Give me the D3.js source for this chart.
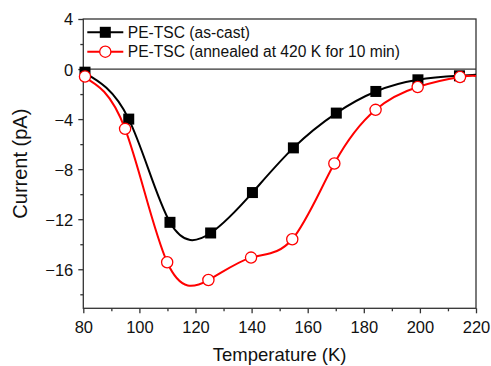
<!DOCTYPE html>
<html>
<head>
<meta charset="utf-8">
<script src="https://cdn.jsdelivr.net/npm/d3@7"></script>
<style>
  body { margin: 0; background: #fff; }
  text { font-family: "Liberation Sans", Arial, sans-serif; fill: #111; }
</style>
</head>
<body>
<div id="chart"></div>
<script>
// values
const temps = [80.6, 96.2, 110.9, 125.4, 140.3, 154.9, 170.2, 184.3, 199.3, 214.1];
const asCast = [-0.25, -4.0, -12.25, -13.1, -9.87, -6.3, -3.52, -1.79, -0.86, -0.54];
const annealedTemps = [80.6, 94.9, 109.9, 124.6, 139.8, 154.5, 169.5, 184.2, 199.2, 214.3];
const annealed = [-0.6, -4.78, -15.44, -16.86, -15.07, -13.6, -7.55, -3.26, -1.44, -0.64];
// where the fitted lines run out at the frame edge
const lineEndT = 220;
const asCastEnd = -0.45;
const annealedEnd = -0.55;

const xTicks = [80, 100, 120, 140, 160, 180, 200, 220];
const yTicks = [4, 0, -4, -8, -12, -16];
const legendLabels = ['PE-TSC (as-cast)', 'PE-TSC (annealed at 420 K for 10 min)'];

const width = 491, height = 366;
const margin = { left: 83.3, right: 15, top: 19, bottom: 57.7 };
const innerW = width - margin.left - margin.right;
const innerH = height - margin.top - margin.bottom;

const svg = d3.select('#chart').append('svg')
  .attr('width', width)
  .attr('height', height);

const g = svg.append('g')
  .attr('transform', `translate(${margin.left},${margin.top})`);

const x = d3.scaleLinear().domain([80, 220]).range([0, innerW]);
const y = d3.scaleLinear().domain([-19.12, 4]).range([innerH, 0]);

const axisColor = '#333';

// axes, ticks outward
const xAxis = g.append('g')
  .attr('transform', `translate(0,${innerH})`)
  .call(d3.axisBottom(x).tickValues(xTicks).tickSize(5).tickPadding(5).tickFormat(d3.format('d')));
const xMinor = g.append('g')
  .attr('transform', `translate(0,${innerH})`)
  .call(d3.axisBottom(x).tickValues(d3.range(90, 220, 20)).tickSize(3).tickFormat(''));
const yAxis = g.append('g')
  .call(d3.axisLeft(y).tickValues(yTicks).tickSize(5).tickPadding(5).tickFormat(d3.format('d')));
const yMinor = g.append('g')
  .call(d3.axisLeft(y).tickValues([2, -2, -6, -10, -14, -18]).tickSize(3).tickFormat(''));

[xAxis, xMinor, yAxis, yMinor].forEach(a => {
  a.select('.domain').remove();
  a.selectAll('line').attr('stroke', axisColor).attr('stroke-width', 1.3);
  a.selectAll('text').style('font-size', '16.5px').attr('fill', '#111');
});
xAxis.selectAll('text').attr('dy', '0.9em');
yAxis.selectAll('text').attr('dy', '0.36em');

// frame + legend box bottom (sits on I = 0)
g.append('rect')
  .attr('width', innerW).attr('height', innerH)
  .attr('fill', 'none').attr('stroke', axisColor).attr('stroke-width', 1.3);
g.append('line')
  .attr('x1', 0).attr('x2', innerW)
  .attr('y1', y(0)).attr('y2', y(0))
  .attr('stroke', axisColor).attr('stroke-width', 1.3);

const line = d3.line()
  .x(d => x(d[0]))
  .y(d => y(d[1]))
  .curve(d3.curveNatural);

const asCastPts = temps.map((t, i) => [t, asCast[i]]);
const annealedPts = annealedTemps.map((t, i) => [t, annealed[i]]);

const plot = g.append('g');

plot.append('path')
  .datum([[x.invert(0), asCast[0]], ...asCastPts.slice(1), [lineEndT, asCastEnd]])
  .attr('d', line)
  .attr('fill', 'none').attr('stroke', '#000').attr('stroke-width', 2);

plot.append('path')
  .datum([[x.invert(0), annealed[0]], ...annealedPts.slice(1), [lineEndT, annealedEnd]])
  .attr('d', line)
  .attr('fill', 'none').attr('stroke', '#f00').attr('stroke-width', 2);

const sq = 11;
plot.selectAll('.sq').data(asCastPts).join('rect')
  .attr('class', 'sq')
  .attr('x', d => x(d[0]) - sq / 2)
  .attr('y', d => y(d[1]) - sq / 2)
  .attr('width', sq).attr('height', sq)
  .attr('fill', '#000');

plot.selectAll('.ci').data(annealedPts).join('circle')
  .attr('class', 'ci')
  .attr('cx', d => x(d[0]))
  .attr('cy', d => y(d[1]))
  .attr('r', 5.6)
  .attr('fill', '#fff').attr('stroke', '#f00').attr('stroke-width', 1.3);

// legend
const legend = g.append('g');
const legendY = [13.3, 32.7];
legendLabels.forEach((label, i) => {
  const row = legend.append('g').attr('transform', `translate(0,${legendY[i]})`);
  row.append('line')
    .attr('x1', 4).attr('x2', 40)
    .attr('stroke', i === 0 ? '#000' : '#f00').attr('stroke-width', 2);
  if (i === 0) {
    row.append('rect').attr('x', 22 - sq / 2).attr('y', -sq / 2)
      .attr('width', sq).attr('height', sq).attr('fill', '#000');
  } else {
    row.append('circle').attr('cx', 22).attr('r', 5.6)
      .attr('fill', '#fff').attr('stroke', '#f00').attr('stroke-width', 1.3);
  }
  row.append('text')
    .attr('x', 44.5).attr('dy', '0.36em')
    .style('font-size', '15.6px')
    .style('white-space', 'pre')
    .text(label);
});

// axis titles
svg.append('text')
  .attr('transform', `translate(26.5,${margin.top + innerH / 2}) rotate(-90)`)
  .attr('text-anchor', 'middle')
  .style('font-size', '20px')
  .text('Current (pA)');

svg.append('text')
  .attr('x', margin.left + innerW / 2)
  .attr('y', 361)
  .attr('text-anchor', 'middle')
  .style('font-size', '18.5px')
  .text('Temperature (K)');
</script>
</body>
</html>
